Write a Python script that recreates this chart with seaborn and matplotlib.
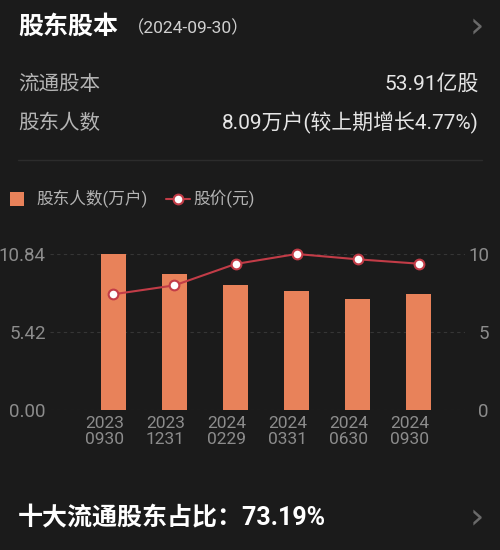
import numpy as np
import pandas as pd
import matplotlib
matplotlib.use("Agg")
import matplotlib.pyplot as plt
import seaborn as sns
from matplotlib.lines import Line2D
from matplotlib.patches import Rectangle
import matplotlib.transforms as mtransforms

# ——— Data ———
dates        = ["2023\n0930", "2023\n1231", "2024\n0229", "2024\n0331", "2024\n0630", "2024\n0930"]
holders      = [10.84, 9.43, 8.66, 8.25, 7.72, 8.09]   # 股东人数(万户)
price        = [7.42, 7.99, 9.36, 10.00, 9.66, 9.38]   # 股价(元)
left_ticks   = [0.00, 5.42, 10.84]
right_ticks  = [0, 5, 10]

# ——— Style ———
W, H      = 500, 550
bg        = "#1b1b1b"
bar_col   = "#e8825a"
line_col  = "#c23c47"
tick_col  = "#8c8c8c"
label_col = "#b4b4b4"
fonts     = ["Roboto", "Noto Sans CJK SC", "DejaVu Sans"]

sns.set_theme(style="dark")
plt.rcParams["font.family"] = fonts
plt.rcParams["axes.unicode_minus"] = False

def fx(x):
    return x / W

def fy(y):
    return 1 - y / H

fig = plt.figure(figsize=(W / 100, H / 100), dpi=100, facecolor=bg)

# ——— Header texts ———
fig.text(fx(18), fy(27), "股东股本", color="white", fontsize=18,
         fontweight="bold", va="center", ha="left")
fig.text(fx(127), fy(28), "（2024-09-30）", color="#d0d0d0", fontsize=12.5,
         va="center", ha="left")
fig.text(fx(477), fy(27), "›", color="#6a6a6a", fontsize=26,
         va="center", ha="center", family="DejaVu Sans")

fig.text(fx(18), fy(84), "流通股本", color=label_col, fontsize=14.8,
         va="center", ha="left")
fig.text(fx(479), fy(84), "53.91亿股", color="#e6e6e6", fontsize=15,
         va="center", ha="right")
fig.text(fx(18), fy(123), "股东人数", color=label_col, fontsize=14.8,
         va="center", ha="left")
fig.text(fx(479), fy(123), "8.09万户(较上期增长4.77%)", color="#e6e6e6",
         fontsize=15, va="center", ha="right")

fig.add_artist(Line2D([fx(18), fx(482)], [fy(160), fy(160)],
                      color="#2c2c2c", lw=1))

# ——— Legend ———
fig.add_artist(Rectangle((fx(10), fy(206)), 14 / W, 14 / H,
                         facecolor=bar_col, edgecolor="none",
                         transform=fig.transFigure))
fig.text(fx(36), fy(199), "股东人数(万户)", color=label_col, fontsize=12,
         va="center", ha="left")
fig.add_artist(Line2D([fx(166), fx(190)], [fy(199), fy(199)],
                      color=line_col, lw=1.5))
fig.add_artist(Line2D([fx(178)], [fy(199)], marker="o", markersize=7,
                      markerfacecolor="white", markeredgecolor=line_col,
                      markeredgewidth=1.5, transform=fig.transFigure))
fig.text(fx(193), fy(199), "股价(元)", color=label_col, fontsize=12,
         va="center", ha="left")

# ——— Chart ———
df = pd.DataFrame({"date": dates, "holders": holders, "price": price})
df["pos"] = np.arange(len(df))

ax = fig.add_axes([fx(50), fy(410), (465 - 50) / W, (410 - 254) / H])
ax.set_facecolor(bg)
sns.barplot(data=df, x="date", y="holders", color=bar_col, width=0.41,
            saturation=1, edgecolor="none", linewidth=0, ax=ax, zorder=2)
ax.set_xlim(-1.04, 5.76)
ax.set_ylim(0, 10.84)
ax.set_yticks(left_ticks)
ax.set_yticklabels([f"{v:.2f}" for v in left_ticks])
ax.set_xlabel("")
ax.set_ylabel("")
for s in ax.spines.values():
    s.set_visible(False)
for v in left_ticks:
    ax.axhline(v, color="#363636", lw=0.8, ls=(0, (3, 3)), zorder=1)
ax.tick_params(axis="y", colors=tick_col, labelsize=13.5, length=0, pad=3)
ax.tick_params(axis="x", colors=tick_col, labelsize=12.5, length=0, pad=4)
for lab in ax.get_xticklabels():
    lab.set_linespacing(1.08)
    lab.set_transform(lab.get_transform() +
                      mtransforms.ScaledTranslation(-0.09, 0, fig.dpi_scale_trans))
ax.grid(False)

ax2 = ax.twinx()
sns.lineplot(data=df, x="pos", y="price", color=line_col, lw=1.5,
             marker="o", markersize=7, markerfacecolor="white",
             markeredgecolor=line_col, markeredgewidth=1.5, ax=ax2,
             zorder=3, clip_on=False)
ax2.set_ylim(0, 10.84 * 10 / 10.84)
ax2.set_yticks(right_ticks)
ax2.set_yticklabels([str(v) for v in right_ticks])
ax2.set_ylabel("")
ax2.set_xlabel("")
for s in ax2.spines.values():
    s.set_visible(False)
ax2.grid(False)
ax2.tick_params(axis="y", colors=tick_col, labelsize=13.5, length=0, pad=5)
for lab in ax2.get_yticklabels():
    lab.set_horizontalalignment("right")
    lab.set_transform(lab.get_transform() +
                      mtransforms.ScaledTranslation(0.17, 0, fig.dpi_scale_trans))
ax.set_xlim(-1.04, 5.76)

# ——— Footer ———
fig.text(fx(18), fy(518), "十大流通股东占比：73.19%", color="white",
         fontsize=18, fontweight="bold", va="center", ha="left")
fig.text(fx(477), fy(518), "›", color="#6a6a6a", fontsize=26,
         va="center", ha="center", family="DejaVu Sans")

fig.savefig("out.png", dpi=100, facecolor=bg)
